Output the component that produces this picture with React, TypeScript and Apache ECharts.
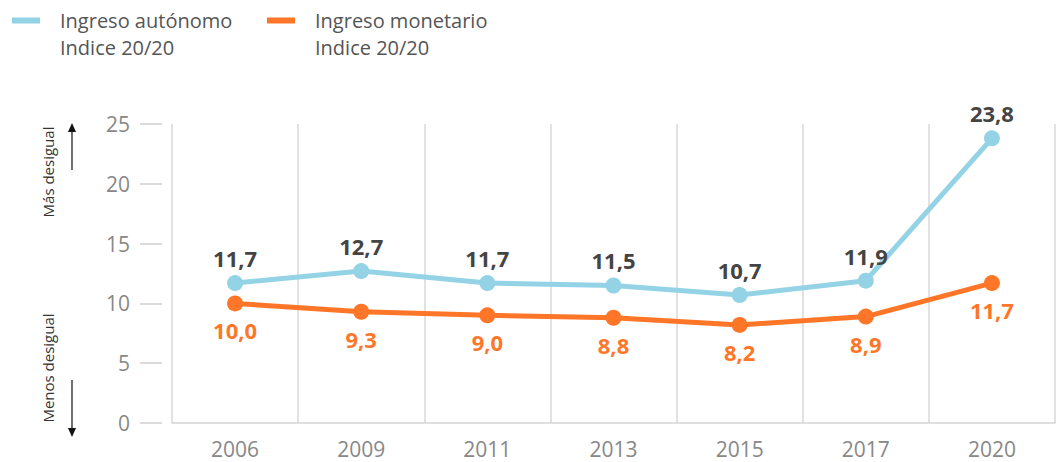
import React, { useEffect, useRef } from "react";
import * as echarts from "echarts";

const years = ["2006", "2009", "2011", "2013", "2015", "2017", "2020"];
const autonomo = [11.7, 12.7, 11.7, 11.5, 10.7, 11.9, 23.8];
const monetario = [10.0, 9.3, 9.0, 8.8, 8.2, 8.9, 11.7];
const seriesNames = ["Ingreso autónomo", "Ingreso monetario"];
const subTitle = "Indice 20/20";
const upLabel = "Más desigual";
const downLabel = "Menos desigual";

const BLUE = "#93d3e5";
const ORANGE = "#ff7628";
const FONT = "'Open Sans', 'Noto Sans', sans-serif";

const fmt = (v: number) => v.toFixed(1).replace(".", ",");

const legendFor = (name: string, left: number) => ({
  top: 8,
  left,
  padding: 0,
  icon: "rect",
  itemWidth: 28,
  itemHeight: 6,
  textStyle: {
    fontFamily: FONT,
    fontSize: 20,
    color: "#555",
    lineHeight: 25,
    padding: [0, 0, 0, 15],
  },
  data: [name],
});

export default function App() {
  const ref = useRef<HTMLDivElement>(null);
  useEffect(() => {
    if (!ref.current) return;
    const chart = echarts.init(ref.current, undefined, { renderer: "svg" });
    const subText = (x: number) => ({
      type: "text",
      x,
      y: 47,
      style: {
        text: subTitle,
        fontSize: 20,
        fontFamily: FONT,
        fill: "#555",
        align: "left",
        verticalAlign: "middle",
      },
    });
    chart.setOption({
      animation: false,
      textStyle: { fontFamily: FONT },
      legend: [legendFor(seriesNames[0], 12), legendFor(seriesNames[1], 267)],
      grid: { left: 172, right: 5, top: 124, bottom: 39 },
      xAxis: {
        type: "category",
        data: years,
        boundaryGap: true,
        axisLine: { show: true, lineStyle: { color: "#d4d4d4", width: 1.5 } },
        axisTick: { show: false },
        axisLabel: { color: "#888", fontSize: 21, margin: 15, fontFamily: FONT },
        splitLine: { show: true, lineStyle: { color: "#d9d9d9", width: 1.5 } },
      },
      yAxis: {
        type: "value",
        min: 0,
        max: 25,
        interval: 5,
        offset: 10,
        axisLine: { show: false },
        axisTick: { show: true, length: 22, lineStyle: { color: "#cfcfcf", width: 1.5 } },
        axisLabel: { color: "#888", fontSize: 21, margin: 32, fontFamily: FONT },
        splitLine: { show: false },
      },
      series: [
        {
          name: seriesNames[0],
          type: "line",
          data: autonomo,
          symbol: "circle",
          symbolSize: 16,
          lineStyle: { color: BLUE, width: 5 },
          itemStyle: { color: BLUE },
          label: {
            show: true,
            position: "top",
            distance: 6,
            formatter: (p: any) => fmt(p.value),
            color: "#444",
            fontWeight: "bold",
            fontSize: 22,
            fontFamily: FONT,
          },
          z: 3,
        },
        {
          name: seriesNames[1],
          type: "line",
          data: monetario,
          symbol: "circle",
          symbolSize: 16,
          lineStyle: { color: ORANGE, width: 5 },
          itemStyle: { color: ORANGE },
          label: {
            show: true,
            position: "bottom",
            distance: 8,
            formatter: (p: any) => fmt(p.value),
            color: ORANGE,
            fontWeight: "bold",
            fontSize: 22,
            fontFamily: FONT,
          },
          z: 4,
        },
      ],
      graphic: [
        subText(60),
        subText(315),
        {
          type: "text",
          x: 48,
          y: 172,
          rotation: Math.PI / 2,
          style: {
            text: upLabel,
            fontSize: 15,
            fontFamily: FONT,
            fill: "#333",
            align: "center",
            verticalAlign: "middle",
          },
        },
        {
          type: "text",
          x: 48,
          y: 368,
          rotation: Math.PI / 2,
          style: {
            text: downLabel,
            fontSize: 15,
            fontFamily: FONT,
            fill: "#333",
            align: "center",
            verticalAlign: "middle",
          },
        },
        {
          type: "line",
          shape: { x1: 72, y1: 131, x2: 72, y2: 170 },
          style: { stroke: "#111", lineWidth: 1.2 },
        },
        {
          type: "polygon",
          shape: { points: [[72, 123], [68, 132], [76, 132]] },
          style: { fill: "#111" },
        },
        {
          type: "line",
          shape: { x1: 72, y1: 380, x2: 72, y2: 429 },
          style: { stroke: "#111", lineWidth: 1.2 },
        },
        {
          type: "polygon",
          shape: { points: [[72, 437], [68, 428], [76, 428]] },
          style: { fill: "#111" },
        },
      ],
    });
    return () => chart.dispose();
  }, []);
  return (
    <div
      ref={ref}
      style={{ position: "absolute", left: 0, top: 0, width: 1060, height: 462 }}
    />
  );
}
